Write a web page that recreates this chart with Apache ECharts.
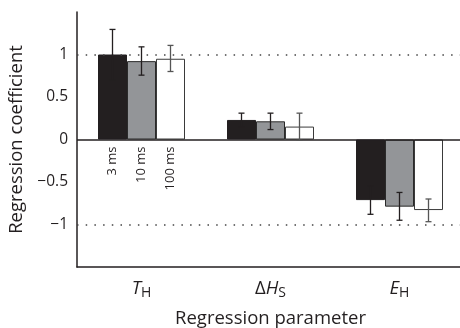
<!DOCTYPE html>
<html>
<head>
<meta charset="utf-8">
<script src="https://cdn.jsdelivr.net/npm/echarts@6/dist/echarts.min.js"></script>
<style>
html, body { margin: 0; padding: 0; background: #fff; }
#chartmain { width: 460px; height: 328px; }
</style>
</head>
<body>
<div id="chartmain"></div>
<script>
var categories = ['{i|T}{s|H}', '{n|Δ}{i|H}{s|S}', '{i|E}{s|H}'];
var durations = ['3 ms', '10 ms', '100 ms'];
var data_3ms = [1.0, 0.23, -0.713];
var data_10ms = [0.922, 0.214, -0.79];
var data_100ms = [0.95, 0.152, -0.83];
var low_3ms = [0.70, 0.15, -0.88];
var high_3ms = [1.295, 0.31, -0.546];
var low_10ms = [0.757, 0.117, -0.95];
var high_10ms = [1.09, 0.31, -0.623];
var low_100ms = [0.80, -0.01, -0.967];
var high_100ms = [1.107, 0.31, -0.70];
var yTicks = [-1, -0.5, 0, 0.5, 1];

var barW = 29;
var fontFam = '"Open Sans", "Noto Sans", sans-serif';
var ink = '#231f20';

var barData = [data_3ms, data_10ms, data_100ms];
var lows = [low_3ms, low_10ms, low_100ms];
var highs = [high_3ms, high_10ms, high_100ms];
var barFill = ['#231f20', '#939598', '#ffffff'];
var barEdge = ['#231f20', '#2a2a2a', '#3a3a3a'];
var whiskerCol = ['#231f20', '#231f20', '#555555'];

// error bar rows: [category, barIndex, low, high]
var errRows = [];
for (var k = 0; k < 3; k++) {
    for (var c = 0; c < categories.length; c++) {
        errRows.push([c, k, lows[k][c], highs[k][c]]);
    }
}

function renderErr(params, api) {
    var c = api.value(0), k = api.value(1);
    var top = api.coord([c, api.value(3)]);
    var bot = api.coord([c, api.value(2)]);
    var x = top[0] + (k - 1) * barW;
    var cap = 3;
    var st = { stroke: whiskerCol[k], lineWidth: 1.3 };
    return {
        type: 'group',
        children: [
            { type: 'line', shape: { x1: x, y1: top[1], x2: x, y2: bot[1] }, style: st },
            { type: 'line', shape: { x1: x - cap, y1: top[1], x2: x + cap, y2: top[1] }, style: st },
            { type: 'line', shape: { x1: x - cap, y1: bot[1], x2: x + cap, y2: bot[1] }, style: st }
        ]
    };
}

// the rotated duration labels below the first group
function renderDur(params, api) {
    var k = api.value(1);
    var p = api.coord([api.value(0), 0]);
    return {
        type: 'text',
        x: p[0] + (k - 1) * barW,
        y: p[1] + 7,
        rotation: Math.PI / 2,
        style: {
            text: durations[k],
            fill: ink,
            font: '13px ' + fontFam,
            align: 'right',
            verticalAlign: 'middle'
        }
    };
}

var series = [];
for (var k = 0; k < 3; k++) {
    var s = {
        type: 'bar',
        data: barData[k],
        barWidth: barW,
        barGap: '0%',
        itemStyle: { color: barFill[k], borderColor: barEdge[k], borderWidth: 1 },
        z: 2
    };
    if (k === 0) {
        s.markLine = {
            silent: true,
            symbol: 'none',
            label: { show: false },
            data: [
                { yAxis: 1, lineStyle: { type: [1.5, 7.2], color: '#444', width: 1.5 } },
                { yAxis: -1, lineStyle: { type: [1.5, 7.2], color: '#444', width: 1.5 } },
                { yAxis: 0, lineStyle: { type: 'solid', color: ink, width: 1.5 } }
            ]
        };
    }
    series.push(s);
}
series.push({
    type: 'custom',
    renderItem: renderErr,
    data: errRows,
    encode: { x: 0, y: [2, 3] },
    z: 5
});
series.push({
    type: 'custom',
    renderItem: renderDur,
    data: [[0, 0], [0, 1], [0, 2]],
    encode: { x: 0 },
    z: 5
});

var option = {
    animation: false,
    grid: { left: 77, right: -4, top: 12, bottom: 61, containLabel: false, outerBoundsMode: 'none' },
    xAxis: {
        type: 'category',
        data: categories,
        boundaryGap: true,
        name: 'Regression parameter',
        nameLocation: 'middle',
        nameGap: 42,
        nameTextStyle: { fontFamily: fontFam, fontSize: 18.5, color: ink },
        axisLine: { onZero: false, lineStyle: { color: ink, width: 1.5 } },
        axisTick: { inside: true, length: 3, alignWithLabel: true, lineStyle: { color: '#888' } },
        axisLabel: {
            margin: 11,
            rich: {
                i: { fontFamily: fontFam, fontSize: 18.5, fontStyle: 'italic', color: ink, lineHeight: 22 },
                n: { fontFamily: fontFam, fontSize: 18.5, color: ink, lineHeight: 22 },
                s: { fontFamily: fontFam, fontSize: 14, color: ink, lineHeight: 22, verticalAlign: 'bottom', padding: [7, 0, 0, 0] }
            }
        }
    },
    yAxis: {
        type: 'value',
        min: -1.5,
        max: 1.5,
        interval: 0.5,
        name: 'Regression coefficient',
        nameLocation: 'middle',
        nameGap: 42,
        nameTextStyle: { fontFamily: fontFam, fontSize: 18.5, color: ink },
        splitLine: { show: false },
        axisTick: { show: false },
        axisLine: { show: true, lineStyle: { color: ink, width: 1.5 } },
        axisLabel: {
            margin: 9,
            fontFamily: fontFam,
            fontSize: 15.5,
            color: ink,
            formatter: function (v) {
                if (yTicks.indexOf(v) < 0) return '';
                return String(v).replace('-', '\u2212');
            }
        }
    },
    series: series
};

var myChart = echarts.init(document.getElementById('chartmain'));
myChart.setOption(option);
</script>
</body>
</html>
